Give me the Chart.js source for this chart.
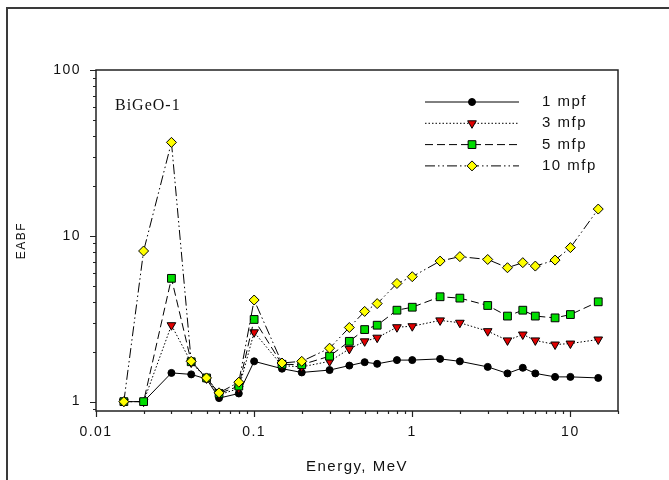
<!DOCTYPE html>
<html>
<head>
<meta charset="utf-8">
<title>EABF vs Energy - BiGeO-1</title>
<script src="https://cdn.jsdelivr.net/npm/chart.js@4.4.1/dist/chart.umd.min.js"></script>
<style>
    html, body { margin: 0; padding: 0; background: #ffffff; }
    canvas { display: block; }
</style>
</head>
<body>
<canvas id="eabfChart" width="669" height="480"></canvas>
<script>
// Photon energies (MeV)
const energy = [0.015, 0.02, 0.03, 0.04, 0.05, 0.06, 0.08, 0.1, 0.15, 0.2, 0.3, 0.4, 0.5, 0.6, 0.8, 1, 1.5, 2, 3, 4, 5, 6, 8, 10, 15];

// EABF values per penetration depth
const mfp1 = [1.0, 1.0, 1.49, 1.46, 1.37, 1.05, 1.12, 1.75, 1.58, 1.50, 1.55, 1.65, 1.73, 1.69, 1.78, 1.78, 1.81, 1.75, 1.62, 1.48, 1.60, 1.48, 1.41, 1.41, 1.39];
const mfp3 = [1.0, 1.0, 2.89, 1.72, 1.38, 1.10, 1.20, 2.62, 1.65, 1.62, 1.75, 2.08, 2.31, 2.43, 2.81, 2.85, 3.09, 2.99, 2.66, 2.34, 2.54, 2.34, 2.21, 2.24, 2.37];
const mfp5 = [1.0, 1.0, 5.54, 1.74, 1.39, 1.12, 1.24, 3.13, 1.68, 1.67, 1.88, 2.31, 2.72, 2.89, 3.56, 3.71, 4.29, 4.21, 3.80, 3.28, 3.56, 3.28, 3.20, 3.35, 4.0];
const mfp10 = [1.0, 8.1, 36.6, 1.75, 1.39, 1.13, 1.31, 4.1, 1.71, 1.75, 2.1, 2.8, 3.5, 3.9, 5.16, 5.67, 7.04, 7.49, 7.2, 6.42, 6.89, 6.57, 7.14, 8.49, 14.5];

const seriesLabels = ['1 mpf', '3 mfp', '5 mfp', '10 mfp'];

// Labelled ticks
const xTickValues = [0.01, 0.1, 1, 10];
const yTickValues = [1, 10, 100];

const FONT = '"Liberation Sans", Arial, sans-serif';

function toPoints(values) {
    return energy.map((e, i) => ({ x: e, y: values[i] }));
}

function isDecade(v) {
    const l = Math.log10(v);
    return Math.abs(l - Math.round(l)) < 1e-9;
}

// Outer frame, plot box, tick marks (minor + major) and the sample label
const framePlugin = {
    id: 'framePlugin',
    beforeDraw(chart) {
        const ctx = chart.ctx;
        ctx.letterSpacing = '1.5px';
        ctx.save();
        ctx.strokeStyle = '#3a3a3a';
        ctx.lineWidth = 2;
        ctx.beginPath();
        ctx.moveTo(7, 480);
        ctx.lineTo(7, 8);
        ctx.lineTo(669, 8);
        ctx.stroke();
        ctx.restore();
    },
    beforeDatasetsDraw(chart) {
        const ctx = chart.ctx;
        const area = chart.chartArea;
        const xs = chart.scales.x;
        const ys = chart.scales.y;
        ctx.save();
        ctx.strokeStyle = '#222';
        ctx.lineWidth = 1.5;
        ctx.strokeRect(area.left, area.top, area.right - area.left, area.bottom - area.top);

        ctx.lineWidth = 1.2;
        ctx.beginPath();
        // x ticks point down
        for (let exp = -2; exp <= 1; exp++) {
            for (let s = 1; s <= 9; s++) {
                const v = s * Math.pow(10, exp);
                if (v < xs.min || v > xs.max) continue;
                const px = Math.round(xs.getPixelForValue(v)) + 0.5;
                const len = s === 1 ? 6 : 3;
                ctx.moveTo(px, area.bottom);
                ctx.lineTo(px, area.bottom + len);
            }
        }
        // y ticks point left
        for (let exp = -1; exp <= 2; exp++) {
            for (let s = 1; s <= 9; s++) {
                const v = s * Math.pow(10, exp);
                if (v < ys.min || v > ys.max) continue;
                const py = Math.round(ys.getPixelForValue(v)) + 0.5;
                const len = s === 1 ? 6 : 3;
                ctx.moveTo(area.left, py);
                ctx.lineTo(area.left - len, py);
            }
        }
        ctx.stroke();

        ctx.fillStyle = '#111';
        ctx.font = '16px "Liberation Serif", "Times New Roman", serif';
        ctx.letterSpacing = '1px';
        ctx.textBaseline = 'middle';
        ctx.fillText('BiGeO-1', 115, 106);
        ctx.restore();
    }
};

// SigmaPlot style legend: long line sample with the marker in the middle
const legendPlugin = {
    id: 'legendPlugin',
    afterDatasetsDraw(chart) {
        const ctx = chart.ctx;
        chart.data.datasets.forEach((ds, i) => {
            const y = 102 + i * 21.3;
            ctx.save();
            ctx.strokeStyle = ds.borderColor;
            ctx.lineWidth = ds.borderWidth;
            ctx.setLineDash(ds.borderDash || []);
            ctx.beginPath();
            ctx.moveTo(425, y);
            ctx.lineTo(519, y);
            ctx.stroke();
            ctx.setLineDash([]);
            ctx.fillStyle = ds.pointBackgroundColor;
            ctx.strokeStyle = ds.pointBorderColor;
            ctx.lineWidth = 1;
            Chart.helpers.drawPoint(ctx, {
                pointStyle: ds.pointStyle,
                radius: ds.pointRadius,
                rotation: ds.pointRotation || 0,
                borderWidth: 1
            }, 472, y);
            ctx.fillStyle = '#111';
            ctx.font = '15px ' + FONT;
            ctx.textBaseline = 'middle';
            ctx.fillText(ds.label, 542, y);
            ctx.restore();
        });
    }
};

// Initialize the EABF chart
function initializeEabfChart() {
    const ctx = document.getElementById('eabfChart').getContext('2d');
    const common = { showLine: true, borderColor: '#000', borderWidth: 1, pointBorderColor: '#000', pointBorderWidth: 1, tension: 0 };
    new Chart(ctx, {
        type: 'scatter',
        data: {
            datasets: [{
                ...common,
                label: seriesLabels[0],
                data: toPoints(mfp1),
                pointStyle: 'circle',
                pointRadius: 3.5,
                pointBackgroundColor: '#000',
                order: 4
            }, {
                ...common,
                label: seriesLabels[1],
                data: toPoints(mfp3),
                borderDash: [1.5, 2],
                pointStyle: 'triangle',
                pointRotation: 180,
                pointRadius: 5,
                pointBackgroundColor: '#e00000',
                order: 3
            }, {
                ...common,
                label: seriesLabels[2],
                data: toPoints(mfp5),
                borderDash: [8, 4],
                pointStyle: 'rect',
                pointRadius: 5.5,
                pointBackgroundColor: '#00dd00',
                order: 2
            }, {
                ...common,
                label: seriesLabels[3],
                data: toPoints(mfp10),
                borderDash: [10, 3, 1.5, 3, 1.5, 3],
                pointStyle: 'rectRot',
                pointRadius: 5,
                pointBackgroundColor: '#ffff00',
                order: 1
            }]
        },
        options: {
            responsive: false,
            animation: false,
            layout: { padding: { top: 70, right: 51, bottom: 0, left: 0 } },
            plugins: {
                legend: { display: false },
                tooltip: { enabled: false }
            },
            scales: {
                x: {
                    type: 'logarithmic',
                    min: 0.01,
                    max: 20,
                    afterFit: (scale) => { scale.height = 69; },
                    afterBuildTicks: (scale) => { scale.ticks = xTickValues.map(v => ({ value: v })); },
                    grid: { display: false, drawTicks: false },
                    border: { display: false },
                    ticks: {
                        autoSkip: false,
                        maxRotation: 0,
                        padding: 13,
                        color: '#111',
                        font: { family: FONT, size: 14 },
                        callback: (v) => isDecade(v) ? String(v) : ''
                    },
                    title: {
                        display: true,
                        text: 'Energy, MeV',
                        color: '#111',
                        font: { family: FONT, size: 15, lineHeight: 1.2 },
                        padding: { top: 0, bottom: 4 }
                    }
                },
                y: {
                    type: 'logarithmic',
                    min: 0.878,
                    max: 100,
                    afterFit: (scale) => { scale.width = 96; },
                    afterBuildTicks: (scale) => { scale.ticks = yTickValues.map(v => ({ value: v })); },
                    grid: { display: false, drawTicks: false },
                    border: { display: false },
                    ticks: {
                        autoSkip: false,
                        padding: 15,
                        color: '#111',
                        font: { family: FONT, size: 14 },
                        callback: (v) => isDecade(v) ? String(v) : ''
                    },
                    title: {
                        display: true,
                        text: 'EABF',
                        color: '#111',
                        font: { family: FONT, size: 12, lineHeight: 1.2 },
                        padding: { top: 14, bottom: 0 }
                    }
                }
            }
        },
        plugins: [framePlugin, legendPlugin]
    });
}

document.addEventListener('DOMContentLoaded', function () {
    initializeEabfChart();
});
</script>
</body>
</html>
